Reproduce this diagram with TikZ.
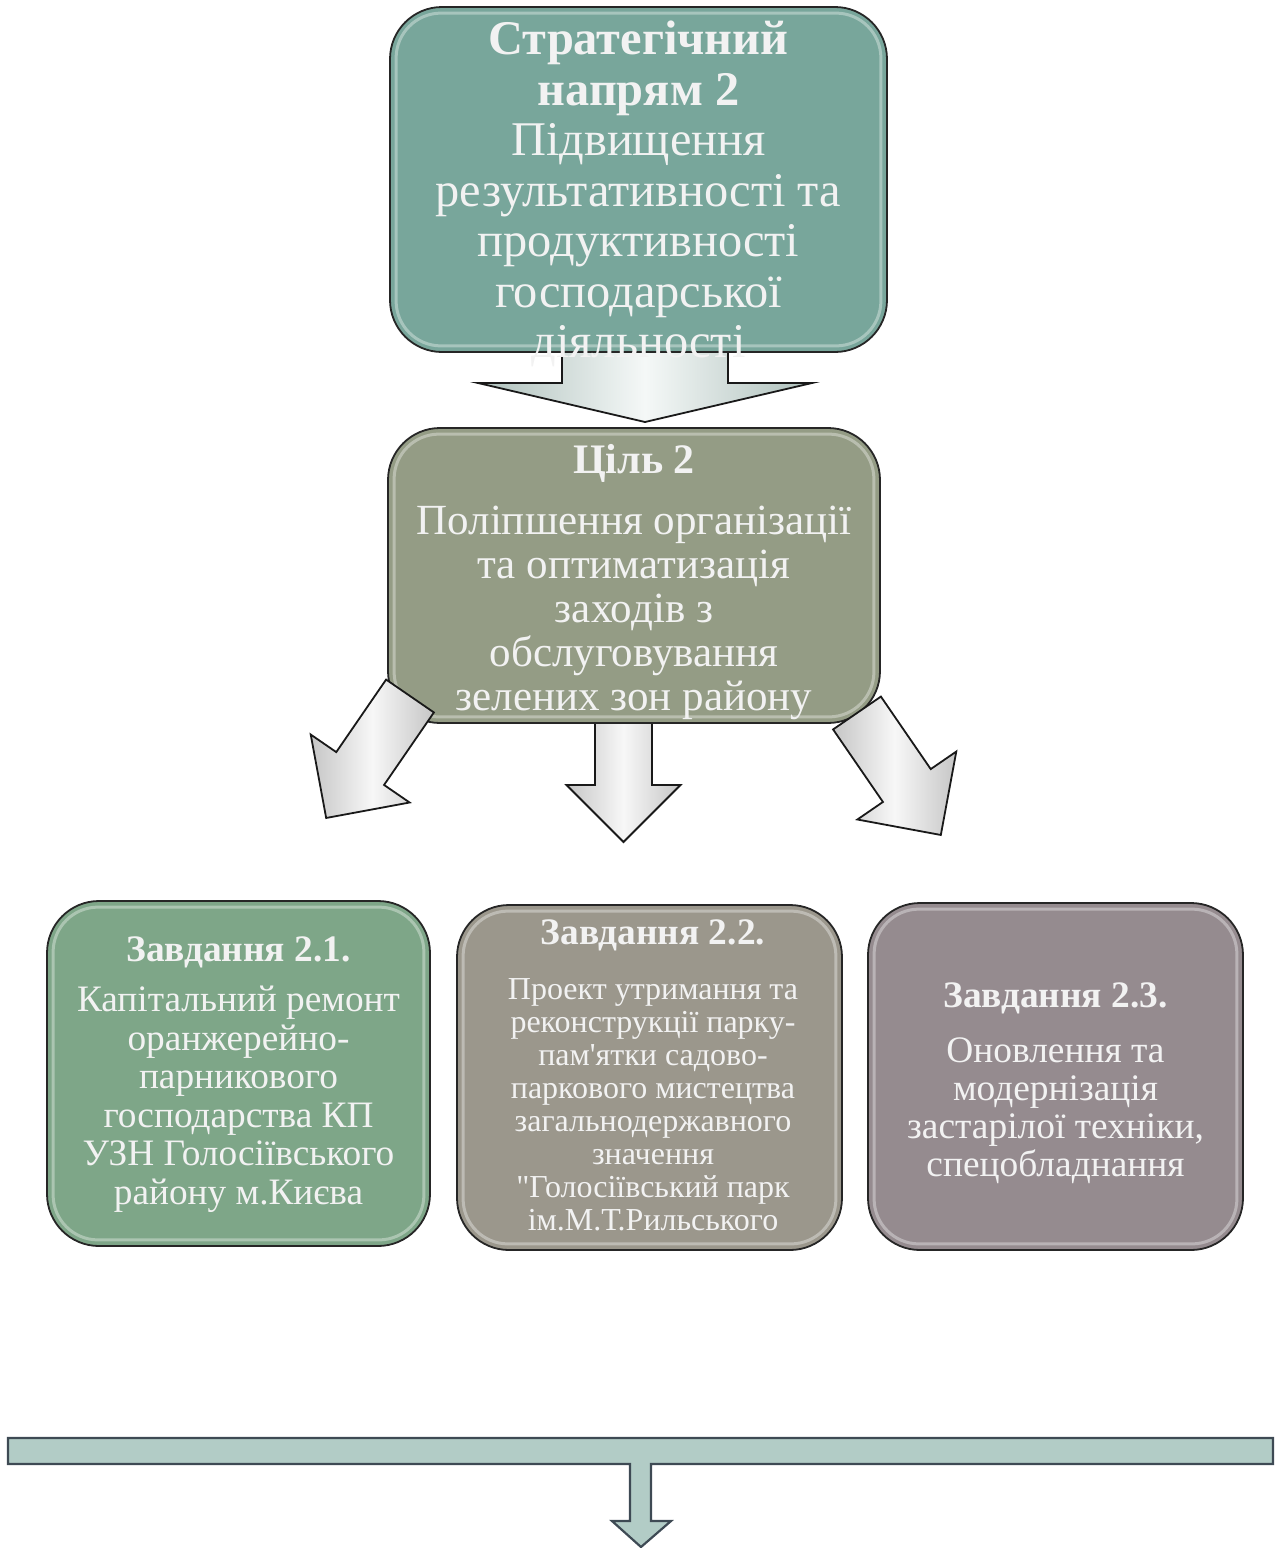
\documentclass[tikz,border=0pt]{standalone}
\usepackage{fontspec}
\setmainfont{Liberation Serif}[Ligatures=TeXOff]
\definecolor{topc}{HTML}{78A69B}
\definecolor{goalc}{HTML}{949C85}
\definecolor{taska}{HTML}{7EA688}
\definecolor{taskb}{HTML}{9B978C}
\definecolor{taskc}{HTML}{958B8F}
\definecolor{barc}{HTML}{B2CCC6}
\definecolor{barline}{HTML}{3E4A54}
\definecolor{txtc}{HTML}{F2F2F2}
\definecolor{tarrow}{HTML}{B9D0CA}
\newcommand\blkarrow[7]{%
  \begin{scope}[shift={(#1)},rotate=#2]
    \path[#7] (0,-#4) -- (#3,-#4) -- (#3,-#5) -- ({#3+#6},0) -- (#3,#5) -- (#3,#4) -- (0,#4) -- cycle;
  \end{scope}}
\tikzset{
  box/.style={rectangle, rounded corners=52pt, draw=black!85, line width=1.8pt, inner sep=0pt},
  gloss/.style={draw=white, opacity=0.35, line width=3pt, rounded corners=45pt},
  txt/.style={text=txtc, align=center, inner sep=0pt, anchor=north},
  grayarrow/.style={draw=black!90, line width=1.8pt, left color=gray!45, right color=gray!45, middle color=white!94!gray},
  tealarrow/.style={draw=black!90, line width=1.8pt, left color=tarrow!80!gray, right color=tarrow!80!gray, middle color=white!85!tarrow},
}
\begin{document}
\begin{tikzpicture}[x=1pt,y=-1pt]
\useasboundingbox (0,0) rectangle (1280,1548);
% arrows lying behind boxes
\blkarrow{645,340}{-90}{43}{83}{167}{39}{tealarrow}
\blkarrow{623.5,715}{-90}{70}{28.5}{57}{57}{grayarrow}
% boxes
\node[box, fill=topc, minimum width=497pt, minimum height=345pt] (dir) at (638.5,179.5) {};
\node[box, fill=goalc, minimum width=492pt, minimum height=295pt] (goal) at (634,575.5) {};
\node[box, fill=taska, minimum width=383pt, minimum height=345pt] (t1) at (238.5,1073.5) {};
\node[box, fill=taskb, minimum width=385pt, minimum height=345pt] (t2) at (649.5,1077.5) {};
\node[box, fill=taskc, minimum width=375pt, minimum height=347pt] (t3) at (1055.5,1076.5) {};
\foreach \b in {dir,goal,t1,t2,t3}
  \draw[gloss] ([shift={(7,7)}]\b.north west) rectangle ([shift={(-7,-7)}]\b.south east);
% diagonal arrows over the goal box
\blkarrow{410,696}{235.5}{88}{29}{60}{60}{grayarrow}
\blkarrow{857,713}{-55.5}{88}{29}{60}{60}{grayarrow}
% texts
\node[txt, font=\fontsize{48.4}{50.5}\selectfont] (dirtxt) at (638.5,21)
  {\textbf{Стратегічний}\\ \textbf{напрям 2}\\ Підвищення\\ результативності та\\ продуктивності\\ господарської\\ діяльності};
\node[txt, font=\fontsize{43}{44}\selectfont] (goaltxt) at (634,444)
  {{\fontsize{42}{44}\selectfont\bfseries Ціль 2}\\[17pt] Поліпшення організації\\ та оптиматизація\\ заходів з\\ обслуговування\\ зелених зон району};
\node[txt, font=\fontsize{37.3}{38.6}\selectfont] (t1txt) at (238.5,937)
  {{\fontsize{37.4}{38.6}\selectfont\bfseries Завдання 2.1.}\\[11pt] Капітальний ремонт\\ оранжерейно-\\ парникового\\ господарства КП\\ УЗН Голосіївського\\ району м.Києва};
\node[txt, font=\fontsize{32}{33}\selectfont] (t2txt) at (653,920)
  {{\fontsize{37.4}{33}\selectfont\bfseries Завдання 2.2.}\\[22pt] Проект утримання та\\ реконструкції парку-\\ пам'ятки садово-\\ паркового мистецтва\\ загальнодержавного\\ значення\\ "Голосіївський парк\\ ім.М.Т.Рильського};
\node[txt, font=\fontsize{37.4}{38}\selectfont] (t3txt) at (1055.5,983)
  {{\fontsize{37.4}{38}\selectfont\bfseries Завдання 2.3.}\\[17pt] Оновлення та\\ модернізація\\ застарілої техніки,\\ спецобладнання};
% bottom bar with arrow
\coordinate (barl) at (8,1438);
\coordinate (barr) at (1273,1464);
\path[fill=barc, draw=barline, line width=2.2pt, line join=miter]
  (barl) -- (barl -| barr) -- (barr) -- (651,1464) -- (651,1521) -- (671,1521) -- (641,1547)
  -- (612,1521) -- (630,1521) -- (630,1464) -- (barr -| barl) -- cycle;
\end{tikzpicture}
\end{document}
